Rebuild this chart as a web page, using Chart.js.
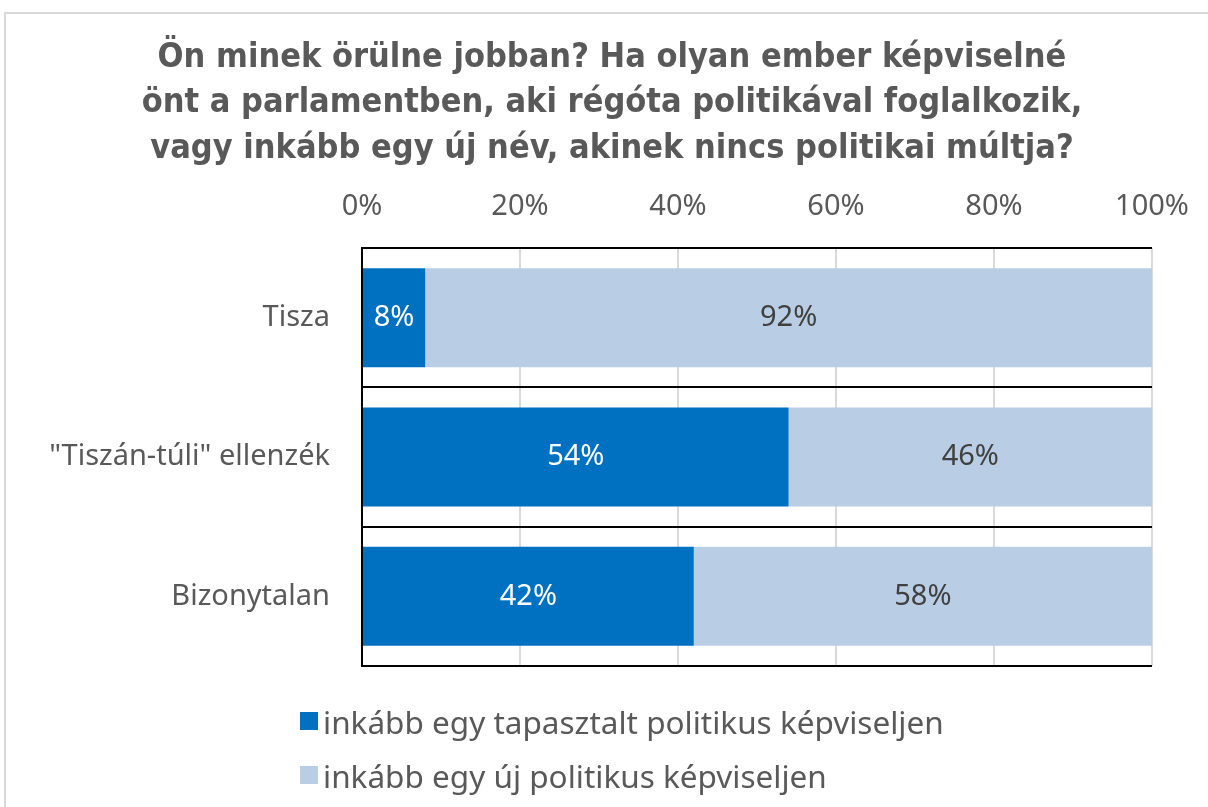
<!DOCTYPE html>
<html>
<head>
<meta charset="utf-8">
<script src="https://cdn.jsdelivr.net/npm/chart.js@4/dist/chart.umd.min.js"></script>
<style>
  html, body { margin: 0; padding: 0; background: #fff; overflow: hidden; }
  #wrap { position: relative; width: 1208px; height: 807px; }
  #frame { position: absolute; left: 4px; top: 12px; width: 1300px; height: 900px; border: 2px solid #d9d9d9; box-sizing: border-box; }
  canvas { position: absolute; left: 0; top: 0; }
  #legend { position: absolute; left: 300px; top: 694px; font-family: "Noto Sans", sans-serif; font-size: 31.5px; color: #595959; }
  .item { display: flex; align-items: center; height: 54px; }
  .sw { width: 18px; height: 18px; margin-right: 5px; }
</style>
</head>
<body>
<div id="wrap">
  <div id="frame"></div>
  <canvas id="c" width="1208" height="807"></canvas>
  <div id="legend"></div>
</div>
<script>
const titleLines = [
  "Ön minek örülne jobban? Ha olyan ember képviselné",
  "önt a parlamentben, aki régóta politikával foglalkozik,",
  "vagy inkább egy új név, akinek nincs politikai múltja?"
];
const categories = ["Tisza", "\"Tiszán-túli\" ellenzék", "Bizonytalan"];
const seriesNames = ["inkább egy tapasztalt politikus képviseljen", "inkább egy új politikus képviseljen"];
const experienced = [8, 54, 42];
const newcomer = [92, 46, 58];
const colors = ["#0070C0", "#B9CDE5"];
const labelColors = ["#ffffff", "#404040"];

const FONT = "'Noto Sans', sans-serif";
const TFONT = "'Liberation Sans Narrow', 'DejaVu Sans Condensed', 'Noto Sans', sans-serif";

const titlePlugin = {
  id: 'centerTitle',
  afterDraw(chart) {
    const ctx = chart.ctx;
    ctx.save();
    ctx.font = "bold 34px " + TFONT;
    ctx.fillStyle = '#595959';
    ctx.textAlign = 'center';
    ctx.textBaseline = 'middle';
    titleLines.forEach((t, i) => ctx.fillText(t, 612, 58 + i * 45.5));
    ctx.restore();
  }
};

const labelPlugin = {
  id: 'segLabels',
  afterDatasetsDraw(chart) {
    const ctx = chart.ctx;
    ctx.save();
    ctx.font = "29px " + FONT;
    ctx.textAlign = 'center';
    ctx.textBaseline = 'middle';
    chart.data.datasets.forEach((ds, di) => {
      const meta = chart.getDatasetMeta(di);
      meta.data.forEach((bar, i) => {
        const cx = (bar.x + bar.base) / 2;
        ctx.fillStyle = labelColors[di];
        ctx.fillText(ds.data[i] + "%", cx, bar.y);
      });
    });
    ctx.restore();
  }
};

new Chart(document.getElementById('c'), {
  type: 'bar',
  data: {
    labels: categories,
    datasets: [
      { label: seriesNames[0], data: experienced, backgroundColor: colors[0] },
      { label: seriesNames[1], data: newcomer, backgroundColor: colors[1] }
    ]
  },
  options: {
    indexAxis: 'y',
    responsive: false,
    animation: false,
    layout: { padding: { left: 0, right: 56, top: 175, bottom: 141 } },
    datasets: { bar: { categoryPercentage: 0.71, barPercentage: 1.0 } },
    plugins: {
      legend: { display: false },
      tooltip: { enabled: false },
      title: { display: false }
    },
    scales: {
      x: {
        position: 'top',
        stacked: true,
        min: 0, max: 100,
        ticks: { stepSize: 20, callback: v => v + '%', color: '#595959', font: { family: FONT, size: 29 }, padding: 24 },
        grid: { color: '#d9d9d9', lineWidth: 2, drawTicks: false },
        border: { display: false },
        afterFit: s => { s.height = 73; s.paddingLeft = 0; s.paddingRight = 0; }
      },
      y: {
        stacked: true,
        ticks: { color: '#595959', font: { family: FONT, size: 29 }, padding: 32 },
        grid: { color: '#000000', lineWidth: 2, drawTicks: false, offset: true },
        border: { display: true, color: '#000000', width: 2 },
        afterFit: s => { s.width = 362; }
      }
    }
  },
  plugins: [labelPlugin, titlePlugin]
});

const lg = document.getElementById('legend');
seriesNames.forEach((n, i) => {
  const d = document.createElement('div');
  d.className = 'item';
  const s = document.createElement('span');
  s.className = 'sw';
  s.style.background = colors[i];
  const t = document.createElement('span');
  t.textContent = n;
  d.appendChild(s); d.appendChild(t);
  lg.appendChild(d);
});
</script>
</body>
</html>
